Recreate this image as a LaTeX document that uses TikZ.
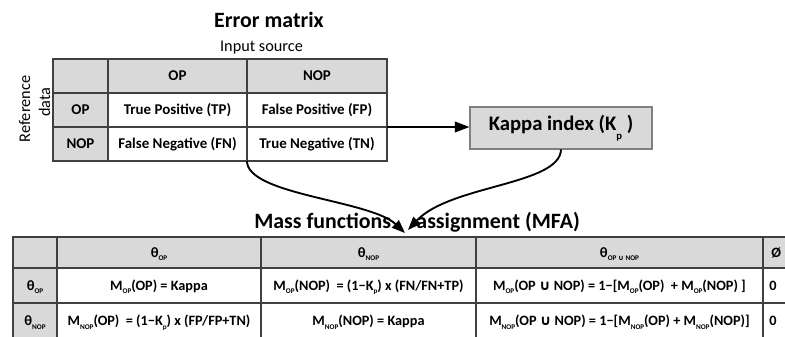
\documentclass[tikz,border=0pt]{standalone}
\usepackage{fontspec}
\setmainfont{Carlito}
\newfontfamily\symf{DejaVu Sans}
\usetikzlibrary{arrows.meta}
\newcommand{\lsub}[1]{\raisebox{-0.5ex}{\fontsize{5.4}{5.4}\selectfont #1}}
\newcommand{\cupc}{{\symf\bfseries ∪}}
\newcommand{\cups}{{\symf ∪}}
\begin{document}
\begin{tikzpicture}[x=0.75pt,y=-0.75pt,
  grid/.style={draw=black!75, line width=0.8pt},
  cell/.style={inner sep=0pt, text height=7.2pt, text depth=0pt, font=\bfseries\fontsize{11.2}{13}\selectfont},
  mcell/.style={inner sep=0pt, text height=6.9pt, text depth=0pt, font=\bfseries\fontsize{10.7}{12}\selectfont},
  ttl/.style={inner sep=0pt, anchor=base, font=\bfseries\fontsize{16.4}{19}\selectfont},
  lbl/.style={inner sep=0pt, anchor=base, font=\fontsize{12.2}{14}\selectfont},
  kbox/.style={draw=black!50, line width=0.8pt, fill=black!15, minimum width=136.5pt, minimum height=31.5pt, inner sep=0pt, font=\bfseries\fontsize{15.5}{18}\selectfont},
  arr/.style={-{Triangle[length=11pt,width=8pt]}, line width=1.3pt},
  arrc/.style={-{Triangle[length=10pt,width=7.5pt]}, line width=1.4pt}]
\useasboundingbox (0,0) rectangle (785,336);
\clip (0,0) rectangle (785,336);

% ---------- Error matrix ----------
\node[ttl] (t1) at (269,27) {Error matrix};
\node[lbl] (t2) at (261.5,51.5) {Input source};
\node[lbl, rotate=90] (r1) at (30,109) {Reference};
\node[lbl, rotate=90] (r2) at (50,102) {data};

\fill[black!15] (53,59) rectangle (387,93);
\fill[black!15] (53,93) rectangle (108,161);
\draw[grid] (53,59) rectangle (387,161);
\draw[grid] (108,59) -- (108,161);
\draw[grid] (247,59) -- (247,161);
\draw[grid] (53,93) -- (387,93);
\draw[grid] (53,127) -- (387,127);

\node[cell] (h1) at (177.5,76) {OP};
\node[cell] (h2) at (317,76) {NOP};
\node[cell] (v1) at (80.5,110) {OP};
\node[cell] (v2) at (80.5,144) {NOP};
\node[cell] (tp) at (177.5,110) {True Positive (TP)};
\node[cell] (fp) at (317,110) {False Positive (FP)};
\node[cell] (fn) at (177.5,144) {False Negative (FN)};
\node[cell] (tn) at (317,144) {True Negative (TN)};

\coordinate (tr) at (387,127);
\coordinate (tb) at (247,161);

% ---------- Kappa ----------
\node[kbox] (kappa) at (561,128) {Kappa index (K\raisebox{-0.9ex}{\fontsize{8}{8}\selectfont p} )};
\draw[arr] (tr) -- (kappa.west |- tr);

% ---------- MFA title & curves ----------
\node[ttl, anchor=base west] (t3) at (254,228) {Mass functions\hspace{19pt}assignment (MFA)};
\coordinate (mfa) at (405,233);
\coordinate (mfb) at (408,230);
\draw[arrc] (tb) .. controls (247,195) and (370,200) .. (mfa);
\draw[arrc] (kappa.south) .. controls (560,185) and (450,185) .. (mfb);

% ---------- MFA table ----------
\fill[black!15] (13,237) rectangle (800,268);
\fill[black!15] (13,268) rectangle (57,345);
\draw[grid] (800,237) -- (13,237) -- (13,345);
\draw[grid] (57,237) -- (57,345);
\draw[grid] (261,237) -- (261,345);
\draw[grid] (476,237) -- (476,345);
\draw[grid] (763,237) -- (763,345);
\draw[grid] (13,268) -- (800,268);
\draw[grid] (13,303) -- (800,303);

\node[mcell] (m01) at (159,252.5) {θ\lsub{OP}};
\node[mcell] (m02) at (368.5,252.5) {θ\lsub{NOP}};
\node[mcell] (m03) at (619.5,252.5) {θ\lsub{OP \cups\ NOP}};
\node[mcell, anchor=west] (m04) at (771,252.5) {Ø};

\node[mcell] (m10) at (35,285.5) {θ\lsub{OP}};
\node[mcell] (m11) at (159,285.5) {M\lsub{OP}(OP) = Kappa};
\node[mcell] (m12) at (368.5,285.5) {M\lsub{OP}(NOP)\ \ = (1−K\lsub{p}) x (FN/FN+TP)};
\node[mcell] (m13) at (619.5,285.5) {M\lsub{OP}(OP \cupc\ NOP) = 1−[M\lsub{OP}(OP)\ \ + M\lsub{OP}(NOP) ]};
\node[mcell, anchor=west] (m14) at (769,285.5) {0};

\node[mcell] (m20) at (35,321) {θ\lsub{NOP}};
\node[mcell] (m21) at (159,321) {M\lsub{NOP}(OP)\ \ = (1−K\lsub{p}) x (FP/FP+TN)};
\node[mcell] (m22) at (368.5,321) {M\lsub{NOP}(NOP) = Kappa};
\node[mcell] (m23) at (619.5,321) {M\lsub{NOP}(OP \cupc\ NOP) = 1−[M\lsub{NOP}(OP) + M\lsub{NOP}(NOP)]};
\node[mcell, anchor=west] (m24) at (769,321) {0};
\end{tikzpicture}
\end{document}
